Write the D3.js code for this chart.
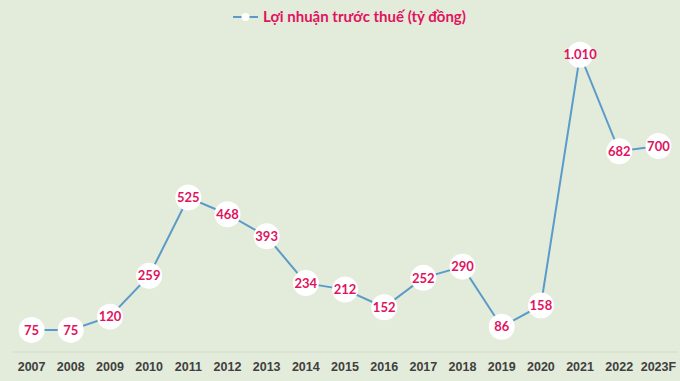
<!DOCTYPE html>
<html>
<head>
<meta charset="utf-8">
<script src="https://cdn.jsdelivr.net/npm/d3@7"></script>
<style>
  body { margin: 0; background: #e3ebda; }
  svg { display: block; font-family: Lato, "Open Sans", sans-serif; }
</style>
</head>
<body>
<div id="chart"></div>
<script>
// data
var years = ["2007", "2008", "2009", "2010", "2011", "2012", "2013", "2014", "2015",
             "2016", "2017", "2018", "2019", "2020", "2021", "2022", "2023F"];
var profit = [75, 75, 120, 259, 525, 468, 393, 234, 212, 152, 252, 290, 86, 158, 1010, 682, 700];
var labels = ["75", "75", "120", "259", "525", "468", "393", "234", "212",
              "152", "252", "290", "86", "158", "1.010", "682", "700"];
var seriesName = "Lợi nhuận trước thuế (tỷ đồng)";

var W = 680, H = 381;
var margin = {top: 40, right: 2, bottom: 29, left: 12},
    width = W - margin.left - margin.right,
    height = H - margin.top - margin.bottom;

var pink = "#e0145e", lineCol = "#5a9bc9";

var svg = d3.select("#chart")
  .append("svg")
    .attr("width", W)
    .attr("height", H);

svg.append("rect").attr("width", W).attr("height", H).attr("fill", "#e3ebda");

var g = svg.append("g")
    .attr("transform", "translate(" + margin.left + "," + margin.top + ")");

var x = d3.scaleBand()
  .domain(years)
  .range([0, width]);

var y = d3.scaleLinear()
  .domain([0, 1060])
  .range([height, 0]);

// baseline
g.append("line")
  .attr("x1", 0).attr("x2", width)
  .attr("y1", y(0)).attr("y2", y(0))
  .attr("stroke", "#d3dccb")
  .attr("stroke-width", 1);

// X axis
var xAxis = g.append("g")
  .attr("transform", "translate(0," + height + ")")
  .call(d3.axisBottom(x).tickSize(0).tickPadding(10));
xAxis.select(".domain").remove();
xAxis.selectAll("text")
  .attr("fill", "#404040")
  .style("font-size", "12.5px")
  .style("font-weight", "bold");

var cx = function(d, i) { return x(years[i]) + x.bandwidth() / 2; };

// line
var line = d3.line()
  .x(function(d, i) { return cx(d, i); })
  .y(function(d) { return y(d); });

g.append("path")
  .datum(profit)
  .attr("d", line)
  .attr("fill", "none")
  .attr("stroke", lineCol)
  .attr("stroke-width", 2);

// markers
g.selectAll("circle.pt")
  .data(profit)
  .enter()
  .append("circle")
    .attr("class", "pt")
    .attr("cx", cx)
    .attr("cy", function(d) { return y(d); })
    .attr("r", 13)
    .attr("fill", "#ffffff");

// labels
g.selectAll("text.lbl")
  .data(profit)
  .enter()
  .append("text")
    .attr("class", "lbl")
    .attr("x", cx)
    .attr("y", function(d) { return y(d); })
    .attr("dy", "0.36em")
    .attr("text-anchor", "middle")
    .attr("fill", pink)
    .style("font-size", "13px")
    .style("font-weight", "bold")
    .text(function(d, i) { return labels[i]; });

// legend
var lg = svg.append("g").attr("transform", "translate(233,17)");
lg.append("line")
  .attr("x1", 0).attr("x2", 25).attr("y1", 0).attr("y2", 0)
  .attr("stroke", lineCol).attr("stroke-width", 2);
lg.append("circle").attr("cx", 12.5).attr("cy", 0).attr("r", 4).attr("fill", "#ffffff");
lg.append("text")
  .attr("x", 30)
  .attr("y", 0)
  .attr("dy", "0.36em")
  .attr("fill", pink)
  .style("font-size", "15px")
  .style("font-weight", "bold")
  .text(seriesName);
</script>
</body>
</html>
